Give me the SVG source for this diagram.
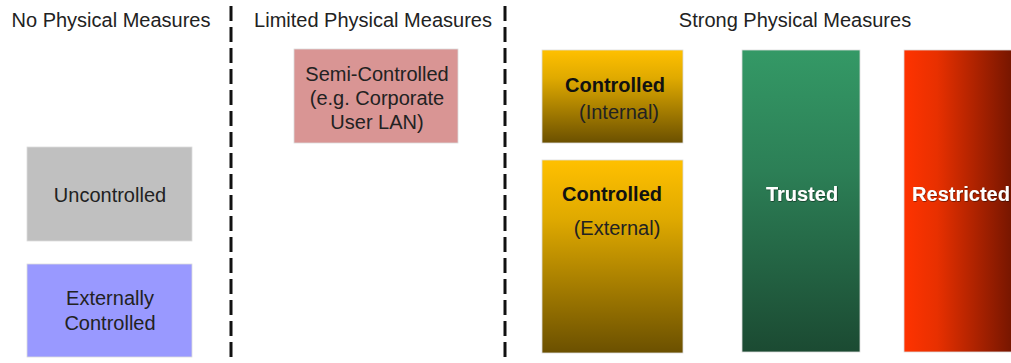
<svg xmlns="http://www.w3.org/2000/svg" width="1011" height="363" viewBox="0 0 1011 363">
<defs>
<linearGradient id="gold" x1="0" y1="0" x2="0" y2="1">
<stop offset="0" stop-color="#ffc000"/>
<stop offset="0.3" stop-color="#e0aa00"/>
<stop offset="1" stop-color="#6b5000"/>
</linearGradient>
<linearGradient id="green" x1="0" y1="0" x2="0" y2="1">
<stop offset="0" stop-color="#349966"/>
<stop offset="0.4" stop-color="#2c7f56"/>
<stop offset="1" stop-color="#1b4a32"/>
</linearGradient>
<linearGradient id="red" x1="0" y1="0" x2="1" y2="0">
<stop offset="0" stop-color="#ff3300"/>
<stop offset="0.3" stop-color="#e83000"/>
<stop offset="1" stop-color="#731500"/>
</linearGradient>
<filter id="sh" x="-10%" y="-20%" width="120%" height="140%">
<feDropShadow dx="0.5" dy="0.5" stdDeviation="0.6" flood-color="#000" flood-opacity="0.8"/>
</filter>
</defs>
<style>
text{font-family:"Liberation Sans",Arial,sans-serif;font-size:20px;fill:#222;text-anchor:middle}
.b{font-weight:bold;fill:#111}
.w{font-weight:bold;fill:#fff}
.div{stroke:#111;stroke-width:3;stroke-dasharray:15,6;fill:none}
.box{stroke:#ddd;stroke-width:0.8}
</style>
<rect width="1011" height="363" fill="#fff"/>
<g id="headers">
<text x="111" y="27">No Physical Measures</text>
<text x="373" y="27">Limited Physical Measures</text>
<text x="795" y="27">Strong Physical Measures</text>
</g>
<g id="connectors">
<line class="div" x1="231" y1="6" x2="231" y2="363"/>
<line class="div" x1="505" y1="6" x2="505" y2="363"/>
</g>
<g id="uncontrolled">
<rect class="box" x="27" y="147" width="165" height="94" fill="#c0c0c0"/>
<text x="110" y="202">Uncontrolled</text>
</g>
<g id="externally-controlled">
<rect class="box" x="27" y="264" width="165" height="93" fill="#9999ff"/>
<text x="110" y="305">Externally</text>
<text x="110" y="330">Controlled</text>
</g>
<g id="semi-controlled">
<rect class="box" x="294" y="49" width="164" height="94" fill="#d99594"/>
<text x="377" y="81">Semi-Controlled</text>
<text x="377" y="105">(e.g. Corporate</text>
<text x="377" y="129">User LAN)</text>
</g>
<g id="controlled-internal">
<rect class="box" x="542" y="50" width="141" height="93" fill="url(#gold)"/>
<text class="b" x="615" y="92">Controlled</text>
<text x="619" y="119">(Internal)</text>
</g>
<g id="controlled-external">
<rect class="box" x="542" y="160" width="141" height="193" fill="url(#gold)"/>
<text class="b" x="612" y="201">Controlled</text>
<text x="617" y="235">(External)</text>
</g>
<g id="trusted">
<rect class="box" x="742" y="50" width="118" height="302" fill="url(#green)"/>
<text class="w" x="802" y="201" filter="url(#sh)">Trusted</text>
</g>
<g id="restricted">
<rect class="box" x="904" y="50" width="110" height="302" fill="url(#red)"/>
<text class="w" x="961" y="201" filter="url(#sh)">Restricted</text>
</g>
</svg>
